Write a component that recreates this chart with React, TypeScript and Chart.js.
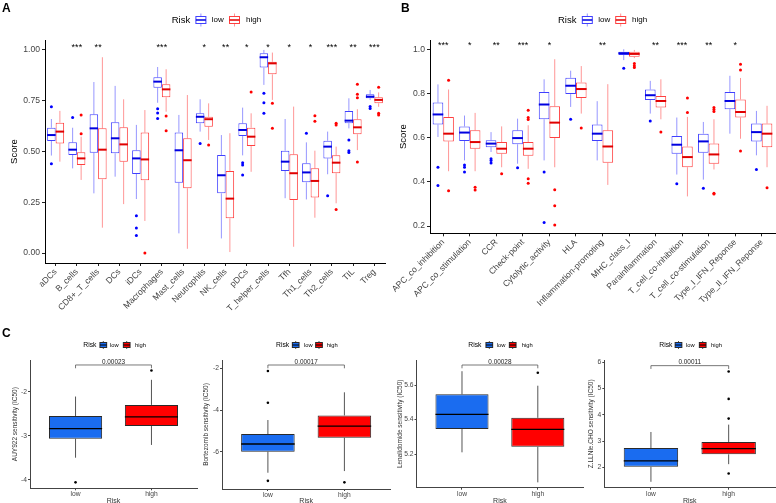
import React, { useEffect, useRef } from "react";
import { Chart, registerables } from "chart.js";
Chart.register(...registerables);

const FONT = '"Liberation Sans", Arial, Helvetica, sans-serif';
Chart.defaults.font.family = FONT;

// ---------------- shared ----------------
const riskLevels = ["low", "high"];
const legendTitle = "Risk";

// ---------------- Panel A ----------------
const catsA = ["aDCs", "B_cells", "CD8+_T_cells", "DCs", "iDCs", "Macrophages", "Mast_cells", "Neutrophils", "NK_cells", "pDCs", "T_helper_cells", "Tfh", "Th1_cells", "Th2_cells", "TIL", "Treg"];
// [min, q1, median, q3, max]
const aLow = [
  [0.48, 0.552, 0.581, 0.617, 0.66],
  [0.417, 0.483, 0.509, 0.545, 0.617],
  [0.294, 0.494, 0.614, 0.683, 0.842],
  [0.376, 0.491, 0.565, 0.644, 0.823],
  [0.266, 0.389, 0.466, 0.506, 0.631],
  [0.74, 0.814, 0.844, 0.865, 0.916],
  [0.097, 0.346, 0.506, 0.594, 0.68],
  [0.598, 0.639, 0.671, 0.688, 0.757],
  [0.072, 0.294, 0.383, 0.483, 0.581],
  [0.481, 0.576, 0.606, 0.639, 0.716],
  [0.828, 0.913, 0.964, 0.984, 1.0],
  [0.27, 0.404, 0.45, 0.504, 0.66],
  [0.264, 0.348, 0.397, 0.442, 0.545],
  [0.388, 0.466, 0.524, 0.553, 0.598],
  [0.614, 0.639, 0.652, 0.7, 0.762],
  [0.754, 0.762, 0.77, 0.782, 0.803],
];
const aLowOut = [[0.72, 0.44], [0.667], [], [], [0.184, 0.123, 0.087], [0.711, 0.69, 0.662], [], [0.54], [], [0.445, 0.433, 0.384], [0.787, 0.74, 0.688], [], [0.59], [0.282], [0.557, 0.504, 0.495], [0.721, 0.712]];
const aHigh = [
  [0.45, 0.54, 0.598, 0.642, 0.7],
  [0.36, 0.433, 0.466, 0.496, 0.573],
  [0.125, 0.363, 0.509, 0.614, 0.964],
  [0.241, 0.45, 0.535, 0.619, 0.757],
  [0.158, 0.358, 0.461, 0.593, 0.704],
  [0.696, 0.767, 0.806, 0.831, 0.905],
  [0.021, 0.319, 0.457, 0.565, 0.778],
  [0.557, 0.622, 0.659, 0.671, 0.737],
  [0.005, 0.171, 0.268, 0.404, 0.59],
  [0.4, 0.527, 0.573, 0.617, 0.688],
  [0.754, 0.88, 0.934, 0.942, 0.987],
  [0.031, 0.261, 0.393, 0.486, 0.721],
  [0.174, 0.274, 0.355, 0.417, 0.504],
  [0.245, 0.393, 0.445, 0.481, 0.524],
  [0.507, 0.585, 0.619, 0.659, 0.708],
  [0.72, 0.737, 0.754, 0.767, 0.791],
];
const aHighOut = [[], [0.68, 0.588], [], [], [0.0], [0.675, 0.602], [], [0.532], [], [0.793], [0.737, 0.614], [], [0.676, 0.649], [0.639, 0.631, 0.215], [0.831, 0.782, 0.765, 0.448], [0.816, 0.688, 0.68]];
const aStars = ["", "***", "**", "", "", "***", "", "*", "**", "*", "*", "*", "*", "***", "**", "***"];
const aTicks = [0, 0.25, 0.5, 0.75, 1.0];
const aTickLabels = ["0.00", "0.25", "0.50", "0.75", "1.00"];

// ---------------- Panel B ----------------
const catsB = ["APC_co_inhibition", "APC_co_stimulation", "CCR", "Check-point", "Cytolytic_activity", "HLA", "Inflammation-promoting", "MHC_class_I", "Parainflammation", "T_cell_co-inhibition", "T_cell_co-stimulation", "Type_I_IFN_Reponse", "Type_II_IFN_Reponse"];
const bLow = [
  [0.603, 0.659, 0.705, 0.759, 0.841],
  [0.497, 0.585, 0.623, 0.651, 0.7],
  [0.535, 0.557, 0.573, 0.588, 0.625],
  [0.482, 0.57, 0.598, 0.633, 0.686],
  [0.497, 0.683, 0.75, 0.807, 0.864],
  [0.739, 0.797, 0.835, 0.871, 0.903],
  [0.497, 0.585, 0.618, 0.659, 0.765],
  [0.951, 0.974, 0.982, 0.989, 1.0],
  [0.709, 0.77, 0.792, 0.818, 0.857],
  [0.433, 0.527, 0.568, 0.607, 0.691],
  [0.41, 0.532, 0.583, 0.618, 0.671],
  [0.618, 0.729, 0.766, 0.807, 0.88],
  [0.52, 0.583, 0.625, 0.664, 0.721],
];
const bLowOut = [[0.466, 0.383], [0.476, 0.466, 0.444], [0.505, 0.497, 0.485], [0.464], [0.444, 0.216], [0.683], [], [0.914], [0.675], [0.391], [0.371], [], [0.456]];
const bHigh = [
  [0.448, 0.583, 0.618, 0.694, 0.818],
  [0.448, 0.55, 0.58, 0.633, 0.712],
  [0.466, 0.527, 0.55, 0.58, 0.651],
  [0.459, 0.518, 0.55, 0.58, 0.656],
  [0.466, 0.598, 0.668, 0.742, 0.955],
  [0.709, 0.78, 0.82, 0.85, 0.924],
  [0.386, 0.486, 0.56, 0.633, 0.842],
  [0.96, 0.966, 0.979, 0.989, 0.997],
  [0.683, 0.736, 0.766, 0.788, 0.864],
  [0.334, 0.466, 0.512, 0.56, 0.694],
  [0.456, 0.482, 0.524, 0.573, 0.683],
  [0.595, 0.691, 0.716, 0.773, 0.87],
  [0.466, 0.557, 0.618, 0.664, 0.744],
];
const bHighOut = [[0.86, 0.36], [0.375, 0.363], [0.436], [0.724, 0.691, 0.682, 0.414, 0.394], [0.364, 0.292, 0.205], [0.644], [], [0.936, 0.925, 0.917], [0.625], [0.78, 0.714], [0.736, 0.727, 0.718, 0.348, 0.345], [0.932, 0.906, 0.539], [0.373]];
const bStars = ["***", "*", "**", "***", "*", "", "**", "", "**", "***", "**", "*", ""];
const bTicks = [0.2, 0.4, 0.6, 0.8, 1.0];
const bTickLabels = ["0.2", "0.4", "0.6", "0.8", "1.0"];

// ---------------- Panel C ----------------
const cTitles = ["AUY922 sensitivity (IC50)", "Bortezomib sensitivity (IC50)", "Lenalidomide sensitivity (IC50)", "Z.LLNle.CHO sensitivity (IC50)"];
const cStats = [
  [[-3.5, -3.07, -2.84, -2.553, -2.11], [-3.21, -2.78, -2.57, -2.3, -1.73]],
  [[-7.01, -6.0, -5.63, -5.155, -4.48], [-6.93, -5.33, -4.77, -4.26, -3.15]],
  [[5.21, 5.345, 5.43, 5.546, 5.68], [5.036, 5.242, 5.343, 5.41, 5.596]],
  [[1.455, 2.023, 2.25, 2.742, 3.35], [2.125, 2.5, 2.72, 2.97, 3.63]],
];
const cOut = [
  [[-4.06], [-1.52]],
  [[-2.13, -3.65, -7.4], [-7.47]],
  [[], [5.671]],
  [[], [5.65, 4.61, 3.86, 1.77]],
];
const cPvals = ["0.00023", "0.00017", "0.00028", "0.00011"];
const cTicks = [[-4, -3, -2], [-6, -4, -2], [5.2, 5.4, 5.6], [2, 3, 4, 5, 6]];
const cTickLabels = [["-4", "-3", "-2"], ["-6", "-4", "-2"], ["5.2", "5.4", "5.6"], ["2", "3", "4", "5", "6"]];
const cRanges = [[-4.195, -1.28], [-7.79, -1.6], [5.005, 5.745], [1.23, 6.09]];
const cBracket = [-1.393, -1.84, 5.716, 5.875];

// ---------------- styles ----------------
const LOW = { box: "rgba(30,30,255,0.85)", whisker: "rgba(80,80,255,0.6)", median: "#0000E0", point: "#0000FF" };
const HIGH = { box: "rgba(255,30,30,0.85)", whisker: "rgba(255,80,80,0.6)", median: "#E00000", point: "#FF0000" };
const C_FILL = ["#1A6CF0", "#FF0000"];

type KeySpec = { cx: number; textX: number; stroke: string; fill: string; median: string; whisker: string };
type LegendSpec = { titleX: number; y: number; titleSize: number; labelSize: number; keys: KeySpec[]; w: number; h: number; wh: number; medianW: number };
type PluginCfg = {
  legend: LegendSpec;
  stars?: string[];
  starValue?: number;
  starSize?: number;
  bracket?: { value: number; text: string; size: number; drop: number };
  medianWidth: number;
  whiskerWidth: number;
  outlierR: number;
};

function makePlugin(cfg: PluginCfg) {
  return {
    id: "boxExtras",
    beforeDatasetsDraw(chart: any) {
      const ctx = chart.ctx;
      const ys = chart.scales.y;
      ctx.save();
      chart.data.datasets.forEach((ds: any, di: number) => {
        const meta = chart.getDatasetMeta(di);
        meta.data.forEach((el: any, j: number) => {
          const s = ds.stats[j];
          ctx.strokeStyle = ds.whiskerColor;
          ctx.lineWidth = cfg.whiskerWidth;
          ctx.beginPath();
          ctx.moveTo(el.x, ys.getPixelForValue(s[4]));
          ctx.lineTo(el.x, ys.getPixelForValue(s[3]));
          ctx.moveTo(el.x, ys.getPixelForValue(s[1]));
          ctx.lineTo(el.x, ys.getPixelForValue(s[0]));
          ctx.stroke();
        });
      });
      ctx.restore();
    },
    afterDatasetsDraw(chart: any) {
      const ctx = chart.ctx;
      const ys = chart.scales.y;
      const xs = chart.scales.x;
      ctx.save();
      chart.data.datasets.forEach((ds: any, di: number) => {
        const meta = chart.getDatasetMeta(di);
        meta.data.forEach((el: any, j: number) => {
          const s = ds.stats[j];
          const ym = ys.getPixelForValue(s[2]);
          ctx.strokeStyle = ds.medianColor;
          ctx.lineWidth = cfg.medianWidth;
          ctx.beginPath();
          ctx.moveTo(el.x - el.width / 2, ym);
          ctx.lineTo(el.x + el.width / 2, ym);
          ctx.stroke();
          ctx.fillStyle = ds.outlierColor;
          (ds.outliers[j] || []).forEach((v: number) => {
            ctx.beginPath();
            ctx.arc(el.x, ys.getPixelForValue(v), cfg.outlierR, 0, Math.PI * 2);
            ctx.fill();
          });
        });
      });
      // significance stars
      if (cfg.stars) {
        ctx.fillStyle = "#000";
        ctx.font = `${cfg.starSize}px ${FONT}`;
        ctx.textAlign = "center";
        ctx.textBaseline = "alphabetic";
        const yStar = ys.getPixelForValue(cfg.starValue) + 0.55 * (cfg.starSize || 9);
        cfg.stars.forEach((st, i) => {
          if (st) ctx.fillText(st, xs.getPixelForValue(i), yStar);
        });
      }
      // p-value bracket
      if (cfg.bracket) {
        const b = cfg.bracket;
        const x0 = xs.getPixelForValue(0);
        const x1 = xs.getPixelForValue(1);
        const yb = ys.getPixelForValue(b.value);
        ctx.strokeStyle = "#555";
        ctx.lineWidth = 0.8;
        ctx.beginPath();
        ctx.moveTo(x0, yb + b.drop);
        ctx.lineTo(x0, yb);
        ctx.lineTo(x1, yb);
        ctx.lineTo(x1, yb + b.drop);
        ctx.stroke();
        ctx.fillStyle = "#222";
        ctx.font = `${b.size}px ${FONT}`;
        ctx.textAlign = "center";
        ctx.textBaseline = "alphabetic";
        ctx.fillText(b.text, (x0 + x1) / 2, yb - 1.2);
      }
      // legend
      const L = cfg.legend;
      ctx.fillStyle = "#000";
      ctx.textAlign = "left";
      ctx.textBaseline = "middle";
      ctx.font = `${L.titleSize}px ${FONT}`;
      ctx.fillText(legendTitle, L.titleX, L.y);
      L.keys.forEach((k, i) => {
        const x0 = k.cx - L.w / 2;
        const y0 = L.y - L.h / 2;
        ctx.strokeStyle = k.whisker;
        ctx.lineWidth = 1;
        ctx.beginPath();
        ctx.moveTo(k.cx, y0 - L.wh);
        ctx.lineTo(k.cx, y0);
        ctx.moveTo(k.cx, y0 + L.h);
        ctx.lineTo(k.cx, y0 + L.h + L.wh);
        ctx.stroke();
        ctx.fillStyle = k.fill;
        ctx.fillRect(x0, y0, L.w, L.h);
        ctx.strokeStyle = k.stroke;
        ctx.lineWidth = 1;
        ctx.strokeRect(x0, y0, L.w, L.h);
        ctx.strokeStyle = k.median;
        ctx.lineWidth = L.medianW;
        ctx.beginPath();
        ctx.moveTo(x0, L.y);
        ctx.lineTo(x0 + L.w, L.y);
        ctx.stroke();
        ctx.fillStyle = "#000";
        ctx.font = `${L.labelSize}px ${FONT}`;
        ctx.fillText(riskLevels[i], k.textX, L.y);
      });
      ctx.restore();
    },
  };
}

type GroupedOpts = {
  cats: string[];
  low: number[][];
  high: number[][];
  lowOut: number[][];
  highOut: number[][];
  stars: string[];
  starValue: number;
  yMin: number;
  yMax: number;
  yTicks: number[];
  yLabels: string[];
  legend: LegendSpec;
  padTop: number;
  padRight: number;
  yWidth: number;
  xHeight: number;
  titlePad: number;
};

function groupedConfig(o: GroupedOpts) {
  const plugin = makePlugin({
    legend: o.legend,
    stars: o.stars,
    starValue: o.starValue,
    starSize: 9,
    medianWidth: 2,
    whiskerWidth: 1,
    outlierR: 1.5,
  });
  return {
    type: "bar",
    data: {
      labels: o.cats,
      datasets: [
        {
          label: riskLevels[0],
          data: o.low.map((s) => [s[1], s[3]]),
          stats: o.low,
          outliers: o.lowOut,
          backgroundColor: "#ffffff",
          borderColor: LOW.box,
          borderWidth: 1,
          borderSkipped: false,
          whiskerColor: LOW.whisker,
          medianColor: LOW.median,
          outlierColor: LOW.point,
          categoryPercentage: 0.8,
          barPercentage: 1,
        },
        {
          label: riskLevels[1],
          data: o.high.map((s) => [s[1], s[3]]),
          stats: o.high,
          outliers: o.highOut,
          backgroundColor: "#ffffff",
          borderColor: HIGH.box,
          borderWidth: 1,
          borderSkipped: false,
          whiskerColor: HIGH.whisker,
          medianColor: HIGH.median,
          outlierColor: HIGH.point,
          categoryPercentage: 0.8,
          barPercentage: 1,
        },
      ],
    },
    options: {
      responsive: false,
      animation: false,
      events: [],
      layout: { padding: { top: o.padTop, right: o.padRight, left: 0, bottom: 0 } },
      plugins: { legend: { display: false }, tooltip: { enabled: false }, title: { display: false } },
      scales: {
        x: {
          type: "category",
          offset: true,
          grid: { display: true, drawOnChartArea: false, drawTicks: true, tickLength: 3, color: "#222", offset: false },
          border: { display: true, color: "#000", width: 1 },
          ticks: { color: "#444", font: { size: 8.6 }, maxRotation: 45, minRotation: 45, padding: 1, autoSkip: false },
          afterFit: (s: any) => {
            s.height = o.xHeight;
          },
        },
        y: {
          type: "linear",
          min: o.yMin,
          max: o.yMax,
          afterBuildTicks: (s: any) => {
            s.ticks = o.yTicks.map((v) => ({ value: v }));
          },
          ticks: { color: "#444", font: { size: 8.6 }, padding: 2, callback: (_v: any, i: number) => o.yLabels[i] },
          grid: { display: true, drawOnChartArea: false, drawTicks: true, tickLength: 3, color: "#222" },
          border: { display: true, color: "#000", width: 1 },
          title: { display: true, text: "Score", color: "#000", font: { size: 9.5 }, padding: { top: o.titlePad, bottom: 0 } },
          afterFit: (s: any) => {
            s.width = o.yWidth;
          },
        },
      },
    },
    plugins: [plugin],
  };
}

type COpts = { idx: number; legend: LegendSpec; yWidth: number; padRight: number; xHeight: number; titlePad: number };

function cConfig(o: COpts) {
  const i = o.idx;
  const plugin = makePlugin({
    legend: o.legend,
    bracket: { value: cBracket[i], text: cPvals[i], size: 6.4, drop: 3.3 },
    medianWidth: 1.3,
    whiskerWidth: 1,
    outlierR: 1.3,
  });
  return {
    type: "bar",
    data: {
      datasets: [
        {
          label: cTitles[i],
          data: cStats[i].map((s, k) => ({ x: k, y: [s[1], s[3]] })),
          stats: cStats[i],
          outliers: cOut[i],
          backgroundColor: C_FILL,
          borderColor: "#2a2a2a",
          borderWidth: 1,
          borderSkipped: false,
          whiskerColor: "#555",
          medianColor: "#000",
          outlierColor: "#000",
          categoryPercentage: 1,
          barPercentage: 0.7,
        },
      ],
    },
    options: {
      responsive: false,
      animation: false,
      events: [],
      layout: { padding: { top: 40, right: o.padRight, left: 0, bottom: 0 } },
      plugins: { legend: { display: false }, tooltip: { enabled: false }, title: { display: false } },
      scales: {
        x: {
          type: "linear",
          min: -0.6,
          max: 1.6,
          offset: false,
          afterBuildTicks: (s: any) => {
            s.ticks = riskLevels.map((_l, k) => ({ value: k }));
          },
          ticks: { color: "#444", font: { size: 6.7 }, padding: 0, maxRotation: 0, callback: (v: any) => riskLevels[Number(v)] },
          grid: { display: true, drawOnChartArea: false, drawTicks: true, tickLength: 2, color: "#444", offset: false },
          border: { display: true, color: "#444", width: 1 },
          title: { display: true, text: legendTitle, color: "#333", font: { size: 7 }, padding: { top: 0, bottom: 0 } },
          afterFit: (s: any) => {
            s.height = o.xHeight;
          },
        },
        y: {
          type: "linear",
          min: cRanges[i][0],
          max: cRanges[i][1],
          afterBuildTicks: (s: any) => {
            s.ticks = cTicks[i].map((v) => ({ value: v }));
          },
          ticks: { color: "#444", font: { size: 6.7 }, padding: 1, callback: (_v: any, k: number) => cTickLabels[i][k] },
          grid: { display: true, drawOnChartArea: false, drawTicks: true, tickLength: 2, color: "#444" },
          border: { display: true, color: "#444", width: 1 },
          title: { display: true, text: cTitles[i], color: "#333", font: { size: 6.5 }, padding: { top: o.titlePad, bottom: 0 } },
          afterFit: (s: any) => {
            s.width = o.yWidth;
          },
        },
      },
    },
    plugins: [plugin],
  };
}

function ChartBox({ left, top, width, height, build }: { left: number; top: number; width: number; height: number; build: () => any }) {
  const ref = useRef<HTMLCanvasElement>(null);
  useEffect(() => {
    const chart = new Chart(ref.current as HTMLCanvasElement, build());
    return () => chart.destroy();
  }, []);
  return <canvas ref={ref} width={width} height={height} style={{ position: "absolute", left, top, width, height }} />;
}

const outlineKeys = (c1: number, t1: number, c2: number, t2: number): KeySpec[] => [
  { cx: c1, textX: t1, stroke: LOW.box, fill: "#fff", median: LOW.median, whisker: LOW.whisker },
  { cx: c2, textX: t2, stroke: HIGH.box, fill: "#fff", median: HIGH.median, whisker: HIGH.whisker },
];
const filledKeys = (c1: number, t1: number, c2: number, t2: number): KeySpec[] => [
  { cx: c1, textX: t1, stroke: "#2a2a2a", fill: C_FILL[0], median: "#000", whisker: "#555" },
  { cx: c2, textX: t2, stroke: "#2a2a2a", fill: C_FILL[1], median: "#000", whisker: "#555" },
];
const cLegend = (tx: number, c1: number, t1: number, c2: number, t2: number): LegendSpec => ({
  titleX: tx, y: 25, titleSize: 6.8, labelSize: 5.8, keys: filledKeys(c1, t1, c2, t2), w: 6.7, h: 5, wh: 1.5, medianW: 1,
});

const letterStyle = (left: number, top: number): React.CSSProperties => ({
  position: "absolute", left, top, fontFamily: FONT, fontWeight: "bold", fontSize: 12, lineHeight: "12px", color: "#000",
});

export default function App() {
  return (
    <div style={{ position: "fixed", left: 0, top: 0, width: 776, height: 503, overflow: "hidden", background: "#fff" }}>
      <ChartBox
        left={0} top={0} width={388} height={318}
        build={() =>
          groupedConfig({
            cats: catsA, low: aLow, high: aHigh, lowOut: aLowOut, highOut: aHighOut, stars: aStars, starValue: 1.0246,
            yMin: -0.049, yMax: 1.049, yTicks: aTicks, yLabels: aTickLabels,
            legend: { titleX: 171.7, y: 20, titleSize: 9.5, labelSize: 8, keys: outlineKeys(200.9, 211.7, 234.5, 246), w: 10, h: 7, wh: 3, medianW: 1.5 },
            padTop: 40, padRight: 3, yWidth: 45, xHeight: 55, titlePad: 9,
          })
        }
      />
      <ChartBox
        left={388} top={0} width={388} height={318}
        build={() =>
          groupedConfig({
            cats: catsB, low: bLow, high: bHigh, lowOut: bLowOut, highOut: bHighOut, stars: bStars, starValue: 1.027,
            yMin: 0.167, yMax: 1.042, yTicks: bTicks, yLabels: bTickLabels,
            legend: { titleX: 170, y: 20, titleSize: 9.5, labelSize: 8, keys: outlineKeys(199.3, 210.3, 232.7, 244), w: 10, h: 7, wh: 3, medianW: 1.5 },
            padTop: 40, padRight: 1, yWidth: 42, xHeight: 84.7, titlePad: 10,
          })
        }
      />
      <ChartBox left={0} top={320} width={200} height={185}
        build={() => cConfig({ idx: 0, legend: cLegend(83.3, 103.3, 110, 126.7, 135), yWidth: 30, padRight: 3, xHeight: 16.7, titlePad: 11 })} />
      <ChartBox left={190} top={320} width={203} height={185}
        build={() => cConfig({ idx: 1, legend: cLegend(86, 105.7, 114, 129, 136.7), yWidth: 32, padRight: 2.7, xHeight: 16, titlePad: 12.8 })} />
      <ChartBox left={385} top={320} width={200} height={185}
        build={() => cConfig({ idx: 2, legend: cLegend(83.3, 104.3, 111.7, 127.7, 136.7), yWidth: 31.5, padRight: 1.7, xHeight: 17.3, titlePad: 11 })} />
      <ChartBox left={576} top={320} width={200} height={185}
        build={() => cConfig({ idx: 3, legend: cLegend(83.3, 102.5, 110, 126.7, 135), yWidth: 28.3, padRight: 0.7, xHeight: 17.3, titlePad: 11 })} />
      <div style={letterStyle(2, 1.7)}>A</div>
      <div style={letterStyle(401, 1.7)}>B</div>
      <div style={letterStyle(2, 326.5)}>C</div>
    </div>
  );
}
